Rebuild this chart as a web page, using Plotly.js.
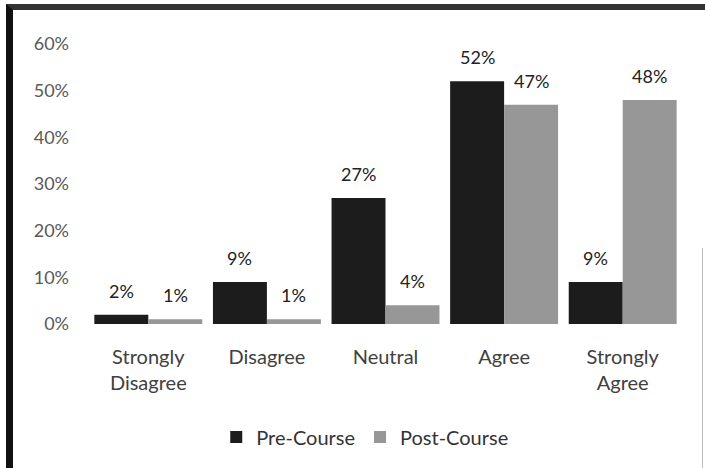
<!DOCTYPE html>
<html>
<head>
<meta charset="utf-8">
<script src="https://cdn.plot.ly/plotly-3.0.1.min.js"></script>
<style>
  html, body { margin: 0; padding: 0; background: #fff; }
  #chart { width: 705px; height: 468px; position: absolute; left: 0; top: 0; }
  #frame { position: absolute; left: 6px; top: 4px; width: 699px; height: 464px;
           border-left: 7px solid #111; border-top: 6px solid #333; box-sizing: border-box; pointer-events: none; }
  #rline { position: absolute; left: 702px; top: 248px; width: 1px; height: 220px; background: #bbb; pointer-events: none; }
</style>
</head>
<body>
<div id="chart"></div>
<div id="frame"></div>
<div id="rline"></div>
<script>
const categories = ["Strongly<br>Disagree", "Disagree", "Neutral", "Agree", "Strongly<br>Agree"];
const preCourse  = [0.02, 0.09, 0.27, 0.52, 0.09];
const postCourse = [0.01, 0.01, 0.04, 0.47, 0.48];
const seriesNames = ["Pre-Course", "Post-Course"];
const yTickVals  = [0, 0.1, 0.2, 0.3, 0.4, 0.5, 0.6];
const yTickText  = ["0%", "10%", "20%", "30%", "40%", "50%", "60%"];

const font = "Lato, 'Open Sans', sans-serif";

const traces = [
  { type: "bar", name: seriesNames[0], x: categories, y: preCourse,
    marker: { color: "#1c1c1c", line: { width: 0 } }, hoverinfo: "none" },
  { type: "bar", name: seriesNames[1], x: categories, y: postCourse,
    marker: { color: "#979797", line: { width: 0 } }, hoverinfo: "none" }
];

const fmt = v => Math.round(v * 100) + "%";
const annotations = [];
[preCourse, postCourse].forEach((vals, s) => {
  vals.forEach((v, i) => {
    annotations.push({
      x: categories[i], y: v, xref: "x", yref: "y",
      text: fmt(v), showarrow: false,
      xshift: s === 0 ? -27 : 27, yshift: 24,
      font: { family: font, size: 18, color: "#222" }
    });
  });
});

const layout = {
  width: 705, height: 468,
  margin: { l: 89, r: 23, t: 44, b: 144 },
  paper_bgcolor: "#fff", plot_bgcolor: "#fff",
  barmode: "group", bargap: 0.09, bargroupgap: 0,
  showlegend: true,
  legend: { orientation: "h", x: 0.465, xanchor: "center", y: -0.404, yanchor: "middle",
            font: { family: font, size: 20, color: "#333" }, itemwidth: 30, traceorder: "normal" },
  xaxis: { type: "category", showgrid: false, zeroline: false, showline: false, ticks: "",
           tickfont: { family: font, size: 20, color: "#404040" }, ticklabelstandoff: 19, fixedrange: true },
  yaxis: { range: [0, 0.6], tickvals: yTickVals, ticktext: yTickText, showgrid: false,
           zeroline: false, showline: false, ticks: "", ticklabelstandoff: 19,
           tickfont: { family: font, size: 18, color: "#595959" }, fixedrange: true },
  annotations: annotations
};

Plotly.newPlot("chart", traces, layout, { displayModeBar: false, staticPlot: true });
</script>
</body>
</html>
